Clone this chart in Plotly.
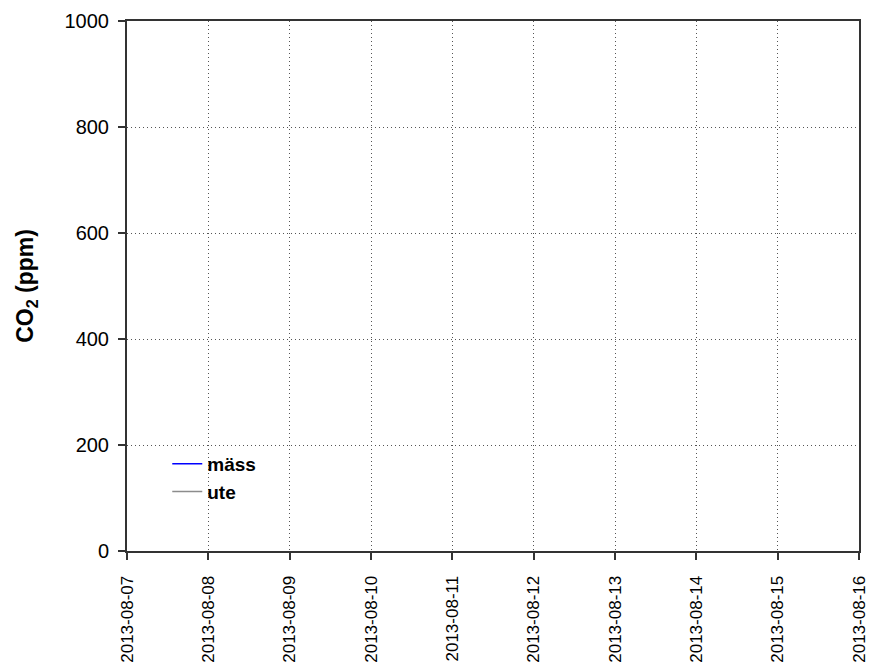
import plotly.graph_objects as go

# Measurement period and series (no logged samples in this interval)
dates = []
mass_ppm = []
ute_ppm = []

x_start = "2013-08-07"
x_end = "2013-08-16"
y_ticks = [0, 200, 400, 600, 800, 1000]


def series(values):
    # an empty series still needs one blank point so its legend entry is drawn
    return values if values else [None]


fig = go.Figure()
fig.add_trace(go.Scatter(x=series(dates), y=series(mass_ppm), mode="lines",
                         name="mäss", line=dict(color="#0000ff", width=1.5)))
fig.add_trace(go.Scatter(x=series(dates), y=series(ute_ppm), mode="lines",
                         name="ute", line=dict(color="#8c8c8c", width=1.5)))

axis_common = dict(
    showline=True, linecolor="#333333", linewidth=2, mirror=True,
    ticks="outside", ticklen=7, tickwidth=1.5, tickcolor="#333333",
    showgrid=True, gridcolor="#555555", gridwidth=1, griddash="1px,3px",
    zeroline=False, automargin=False,
)

fig.update_layout(
    width=871, height=666,
    margin=dict(l=127, r=12, t=21, b=115),
    paper_bgcolor="white", plot_bgcolor="white",
    font=dict(family="Liberation Sans, Arial, sans-serif", color="black"),
    showlegend=True,
    legend=dict(x=0.055, y=0.2, xanchor="left", yanchor="top",
                bgcolor="rgba(0,0,0,0)", borderwidth=0,
                font=dict(size=19, weight="bold")),
    xaxis=dict(type="date", range=[x_start, x_end], dtick=86400000,
               tick0=x_start, tickformat="%Y-%m-%d", tickangle=-90,
               tickfont=dict(size=17), ticklabelstandoff=9, **axis_common),
    yaxis=dict(range=[0, 1000], tickvals=y_ticks,
               tickfont=dict(size=20), ticklabelstandoff=5,
               title=dict(text="CO<sub>2</sub> (ppm)",
                          font=dict(size=23, weight="bold"), standoff=24),
               **axis_common),
)

fig.write_html("out.html")
